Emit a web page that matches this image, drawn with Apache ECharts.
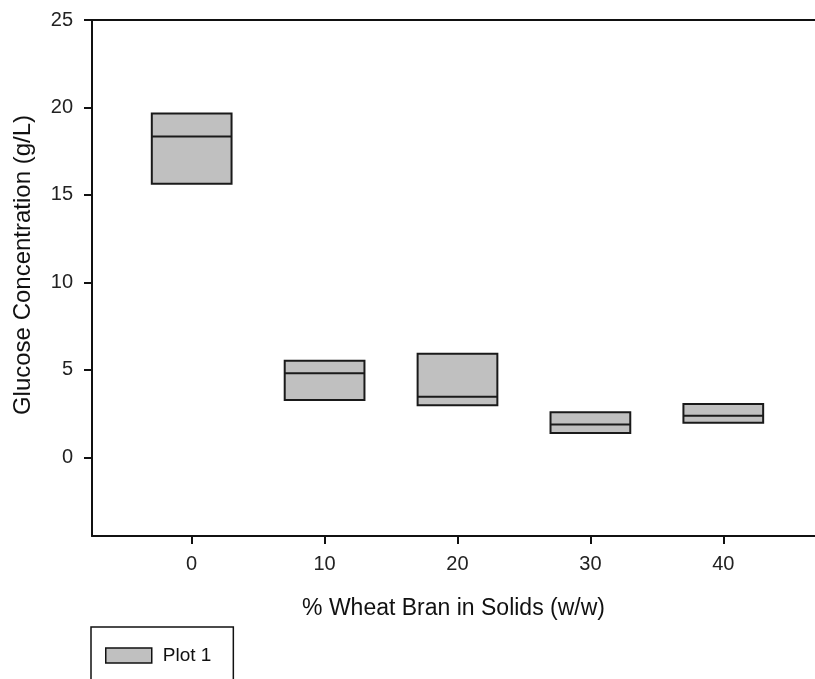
<!DOCTYPE html>
<html>
<head>
<meta charset="utf-8">
<script src="https://cdn.jsdelivr.net/npm/echarts@6/dist/echarts.min.js"></script>
<style>html,body{margin:0;padding:0;background:#fff}#c{width:815px;height:679px}</style>
</head>
<body>
<div id="c"></div>
<script>
const wheatBran = [0, 10, 20, 30, 40];
const q1 = [15.64, 3.27, 2.98, 1.39, 1.97];
const median = [18.34, 4.81, 3.46, 1.87, 2.37];
const q3 = [19.66, 5.52, 5.92, 2.58, 3.04];
const xTicks = [0, 10, 20, 30, 40];
const yTicks = [0, 5, 10, 15, 20, 25];

const FONT = '"Liberation Sans", Arial, sans-serif';
const HALF = 3;
const data = wheatBran.map((x, i) => [x, q1[i], median[i], q3[i]]);

const chart = echarts.init(document.getElementById('c'), null, {renderer: 'canvas'});
chart.setOption({
  animation: false,
  backgroundColor: '#fff',
  grid: {left: 92, top: 20, right: 0, bottom: 143, containLabel: false},
  xAxis: [{
    type: 'value', min: -7.5, max: 46.9, position: 'bottom',
    name: '% Wheat Bran in Solids (w/w)', nameLocation: 'middle', nameGap: 61,
    nameTextStyle: {fontFamily: FONT, fontSize: 23, color: '#111'},
    axisLine: {show: true, onZero: false, lineStyle: {color: '#111', width: 2}},
    axisTick: {show: true, length: 8, lineStyle: {color: '#111', width: 2}, customValues: xTicks},
    axisLabel: {fontFamily: FONT, fontSize: 20, color: '#222', margin: 18, customValues: xTicks},
    splitLine: {show: false}
  }, {
    type: 'value', min: -7.5, max: 46.9, position: 'top',
    axisLine: {show: true, onZero: false, lineStyle: {color: '#111', width: 2}},
    axisTick: {show: false}, axisLabel: {show: false}, splitLine: {show: false}
  }],
  yAxis: {
    type: 'value', min: -4.5, max: 25,
    name: 'Glucose Concentration (g/L)', nameLocation: 'middle', nameGap: 57,
    nameTextStyle: {fontFamily: FONT, fontSize: 24, color: '#111', padding: [0, 0, 0, 26]},
    axisLine: {show: true, onZero: false, lineStyle: {color: '#111', width: 2}},
    axisTick: {show: true, length: 8, lineStyle: {color: '#111', width: 2}, customValues: yTicks},
    axisLabel: {fontFamily: FONT, fontSize: 20, color: '#222', margin: 19, customValues: yTicks},
    splitLine: {show: false}
  },
  legend: {
    show: true, left: 91, top: 627, orient: 'vertical',
    borderColor: '#111', borderWidth: 1.5, borderRadius: 0,
    padding: [19, 22, 30, 14],
    itemWidth: 46, itemHeight: 15,
    textStyle: {fontFamily: FONT, fontSize: 19, color: '#111', padding: [0, 0, 0, 6]},
    data: [{name: 'Plot 1', icon: 'rect', itemStyle: {color: '#c0c0c0', borderColor: '#111', borderWidth: 1.5}}]
  },
  series: [{
    name: 'Plot 1', type: 'custom',
    itemStyle: {color: '#c0c0c0', borderColor: '#111', borderWidth: 1.5},
    encode: {x: 0, y: [1, 2, 3]},
    data: data,
    renderItem: function (params, api) {
      const x = api.value(0), lo = api.value(1), med = api.value(2), hi = api.value(3);
      const tl = api.coord([x - HALF, hi]);
      const br = api.coord([x + HALF, lo]);
      const ml = api.coord([x - HALF, med]);
      const mr = api.coord([x + HALF, med]);
      return {
        type: 'group',
        children: [{
          type: 'rect',
          shape: {x: tl[0], y: tl[1], width: br[0] - tl[0], height: br[1] - tl[1]},
          style: {fill: '#c0c0c0', stroke: '#1a1a1a', lineWidth: 2}
        }, {
          type: 'line',
          shape: {x1: ml[0], y1: ml[1], x2: mr[0], y2: mr[1]},
          style: {stroke: '#1a1a1a', lineWidth: 2}
        }]
      };
    }
  }]
});
</script>
</body>
</html>
